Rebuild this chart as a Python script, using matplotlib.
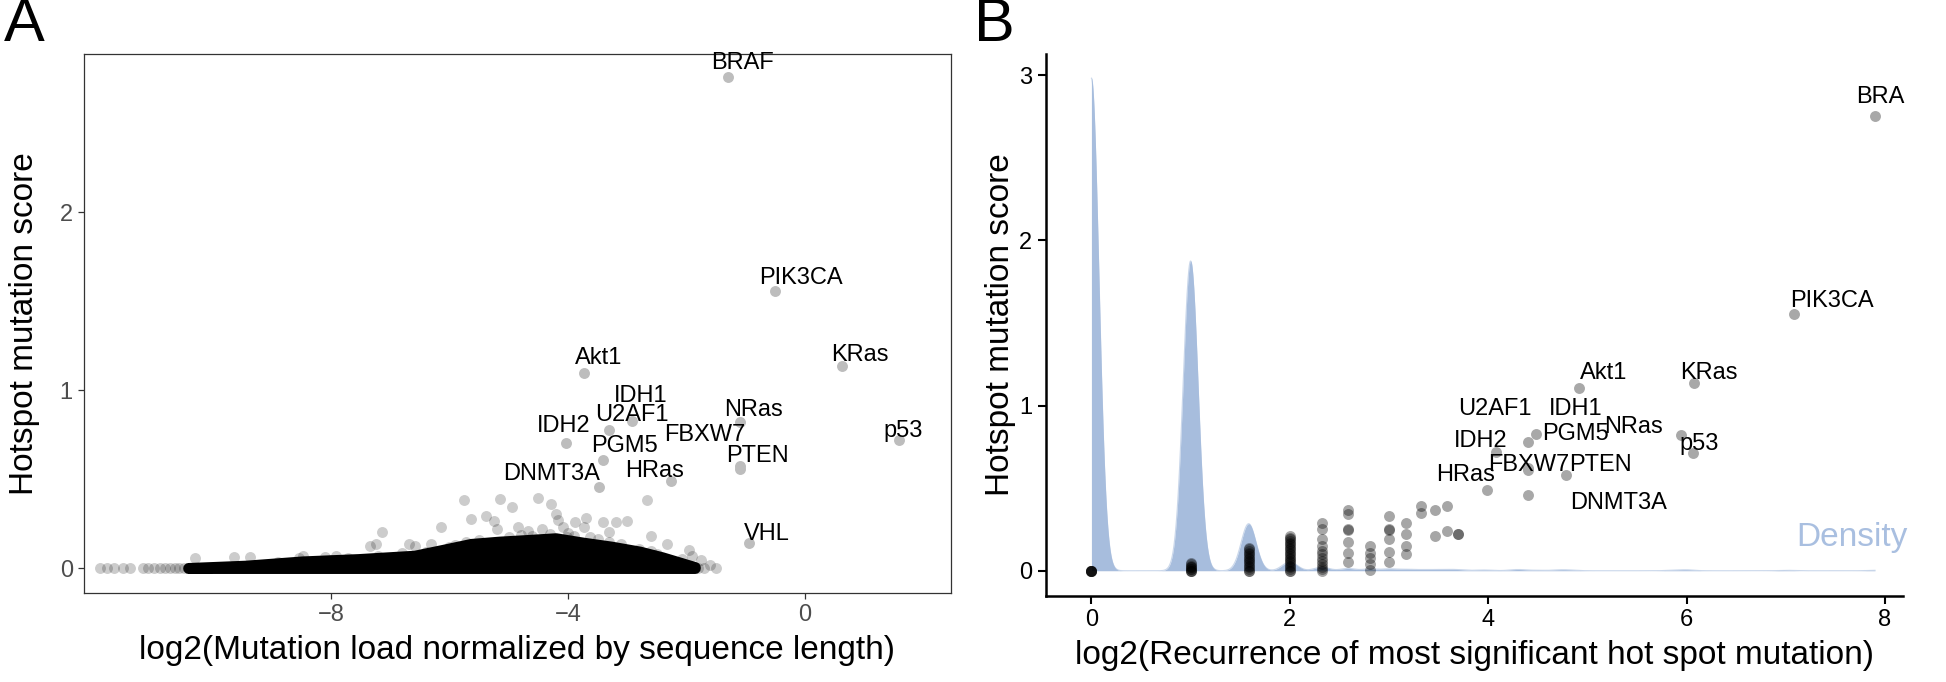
import numpy as np
import matplotlib
matplotlib.use('Agg')
import matplotlib.pyplot as plt

plt.rcParams['font.family'] = ['Liberation Sans', 'DejaVu Sans']

# ---------------- Panel A data ----------------
# dense core of the cloud: upper envelope of the solid region (score >= 0)
a_env_x = [-10.4, -9.43, -8.47, -7.53, -6.58, -6.10, -5.63, -5.15, -4.68, -4.20,
           -3.73, -3.26, -2.78, -2.40, -2.10, -1.85]
a_env_y = [0.0, 0.013, 0.037, 0.05, 0.069, 0.102, 0.135, 0.148, 0.157, 0.167,
           0.142, 0.12, 0.092, 0.06, 0.03, 0.005]
# individual visible points around the core
a_pts_x = [-11.89, -11.78, -11.66, -11.51, -11.39, -11.18, -11.09, -10.98,
           -10.30, -9.64, -9.36, -8.54, -8.47, -8.10, -7.91, -7.72, -7.34, -7.24,
           -7.13, -6.68, -6.58, -6.31, -6.15, -5.72, -5.63, -5.39, -5.24, -5.20,
           -5.75, -5.15, -4.94, -4.84, -4.68, -4.51, -4.44, -4.28, -4.20, -4.16,
           -4.09, -4.01, -3.88, -3.73, -3.70, -3.63, -3.40, -3.30, -3.18, -3.01,
           -2.67, -2.59, -2.32, -2.07, -1.96, -2.21, -2.40, -2.49,
           -8.9, -8.0, -7.2, -6.8, -6.4, -6.0, -5.5, -5.0, -4.6, -4.3, -3.9, -3.5,
           -3.1, -2.8, -2.5, -2.3, -2.1, -1.9, -1.8, -2.0, -2.6, -3.3, -4.0, -4.8, -5.9,
           -1.7, -1.6, -1.5, -1.75, -1.9,
           -10.88, -10.80, -10.72, -10.64, -10.56, -10.48, -10.42, -10.36]
a_pts_y = [0, 0, 0, 0, 0, 0, 0, 0,
           0.059, 0.065, 0.065, 0.061, 0.069, 0.065, 0.069, 0.061, 0.124, 0.135,
           0.204, 0.135, 0.124, 0.135, 0.231, 0.148, 0.278, 0.296, 0.269, 0.222,
           0.385, 0.389, 0.343, 0.231, 0.213, 0.398, 0.222, 0.361, 0.306, 0.272,
           0.231, 0.176, 0.259, 0.231, 0.283, 0.176, 0.259, 0.204, 0.259, 0.269,
           0.385, 0.181, 0.139, 0.056, 0.102, 0.019, 0.013, 0.028,
           0.035, 0.05, 0.07, 0.085, 0.095, 0.12, 0.16, 0.175, 0.185, 0.195, 0.18, 0.165,
           0.14, 0.11, 0.08, 0.05, 0.03, 0.01, 0.0, 0.0, 0.1, 0.15, 0.2, 0.19, 0.13,
           0.0, 0.02, 0.0, 0.05, 0.07,
           0, 0, 0, 0, 0, 0, 0, 0]
# labelled genes
a_genes = ['BRAF', 'PIK3CA', 'KRas', 'Akt1', 'IDH1', 'U2AF1', 'IDH2', 'NRas',
           'FBXW7', 'PGM5', 'PTEN', 'HRas', 'DNMT3A', 'VHL', 'p53']
a_gene_x = [-1.30, -0.51, 0.63, -3.72, -2.91, -3.30, -4.03, -1.10,
            -1.10, -3.41, -1.10, -2.26, -3.47, -0.95, 1.59]
a_gene_y = [2.76, 1.557, 1.135, 1.10, 0.83, 0.775, 0.706, 0.82,
            0.56, 0.61, 0.574, 0.49, 0.46, 0.145, 0.72]
a_lab_x = [-1.045, -0.07, 0.93, -3.48, -2.77, -2.92, -4.07, -0.86,
           -1.69, -3.04, -0.795, -2.545, -4.27, -0.65, 1.66]
a_lab_y = [2.84, 1.63, 1.20, 1.18, 0.97, 0.86, 0.80, 0.89,
           0.75, 0.69, 0.63, 0.55, 0.53, 0.195, 0.77]
a_xticks = [-8, -4, 0]
a_yticks = [0, 1, 2]

# ---------------- Panel B data ----------------
# recurrence (log2) values and number of genes at each, for the density
b_rec_x = [0, 1, 1.585, 2, 2.322, 2.585, 2.807, 3, 3.17, 3.322, 3.459, 3.585, 3.7,
           3.907, 4.0, 4.25, 4.32, 4.5, 4.7, 4.75, 4.84, 5.86, 6.0, 7.0, 7.9]
b_rec_n = [1110, 698, 106, 20, 8, 5, 4, 4, 3, 2, 2, 2, 2,
           1, 1, 1, 2, 1, 1, 1, 1, 1, 2, 1, 1]
# visible (unlabelled) points per recurrence column
b_col_x = [0, 1, 1.585, 2, 2.322, 2.585, 2.807, 3, 3.17, 3.322, 3.459, 3.585, 3.7]
b_col_y = [
    [0, 0, 0, 0, 0, 0],
    [0, 0, 0, 0.01, 0.01, 0.02, 0.02, 0.03, 0.04, 0.045],
    [0, 0, 0.01, 0.02, 0.03, 0.04, 0.05, 0.06, 0.07, 0.08, 0.09, 0.10, 0.11, 0.12, 0.13, 0.14],
    [0, 0, 0.01, 0.02, 0.03, 0.04, 0.05, 0.06, 0.07, 0.08, 0.09, 0.10, 0.11, 0.12,
     0.13, 0.14, 0.15, 0.16, 0.17, 0.18, 0.19, 0.20, 0.21],
    [0, 0.01, 0.02, 0.04, 0.06, 0.08, 0.10, 0.12, 0.15, 0.19, 0.25, 0.29],
    [0.05, 0.11, 0.175, 0.245, 0.255, 0.345, 0.37],
    [0.007, 0.04, 0.075, 0.11, 0.15],
    [0.05, 0.115, 0.19, 0.245, 0.255, 0.33],
    [0.10, 0.15, 0.22, 0.29],
    [0.35, 0.39],
    [0.21, 0.37],
    [0.24, 0.39],
    [0.225, 0.225],
]
b_genes = ['BRA', 'PIK3CA', 'KRas', 'p53', 'Akt1', 'NRas', 'IDH1', 'U2AF1',
           'IDH2', 'PGM5', 'FBXW7', 'PTEN', 'HRas', 'DNMT3A']
b_gene_x = [7.90, 7.08, 6.08, 6.06, 4.92, 5.94, 4.48, 4.40, 4.08, 4.40, 4.40, 4.78, 3.987, 4.40]
b_gene_y = [2.75, 1.556, 1.135, 0.71, 1.107, 0.82, 0.83, 0.78, 0.72, 0.62, 0.61, 0.58, 0.486, 0.457]
b_lab_x = [7.95, 7.47, 6.22, 6.13, 5.16, 5.47, 4.88, 4.07, 3.92, 4.88, 4.41, 5.13, 3.77, 5.31]
b_lab_y = [2.87, 1.63, 1.20, 0.77, 1.20, 0.87, 0.98, 0.98, 0.785, 0.83, 0.64, 0.64, 0.58, 0.41]
b_xticks = [0, 2, 4, 6, 8]
b_yticks = [0, 1, 2, 3]

# ---------------- Figure ----------------
fig = plt.figure(figsize=(19.46, 6.82), dpi=100)
LAB = 17
TICK = 17
TITLE = 24
MS = 62
MD = 7.9  # marker diameter in points

# ---- Panel A ----
axA = fig.add_axes([0.0431, 0.1304, 0.4454, 0.7899])
env_x = np.array(a_env_x)
env_y = np.array(a_env_y)
poly_x = np.concatenate([env_x, env_x[::-1]])
poly_y = np.concatenate([env_y, np.zeros_like(env_y)])
axA.fill(poly_x, poly_y, color='black', lw=MD, joinstyle='round', zorder=2)
axA.scatter(a_pts_x, a_pts_y, s=MS, color='black', alpha=0.2, lw=0, zorder=3)
axA.scatter(a_gene_x, a_gene_y, s=MS, color='#BDBDBD', lw=0, zorder=4)
for g, x, y in zip(a_genes, a_lab_x, a_lab_y):
    axA.text(x, y, g, ha='center', va='center', fontsize=LAB, color='black', zorder=5)
axA.set_xlim(-12.17, 2.46)
axA.set_ylim(-0.138, 2.886)
axA.set_xticks(a_xticks)
axA.set_xticklabels(['\u22128', '\u22124', '0'])
axA.set_yticks(a_yticks)
for sp in axA.spines.values():
    sp.set_color('#333333')
    sp.set_linewidth(0.9)
axA.tick_params(direction='out', length=4, width=0.9, color='#333333',
                labelcolor='#4D4D4D', labelsize=TICK, pad=4)
axA.set_xlabel('log2(Mutation load normalized by sequence length)', fontsize=TITLE, labelpad=6)
axA.set_ylabel('Hotspot mutation score', fontsize=TITLE, labelpad=14)

# ---- Panel B ----
axB = fig.add_axes([0.5374, 0.1268, 0.4404, 0.7935])
rx = np.array(b_rec_x)
rn = np.array(b_rec_n, dtype=float)
bw = 0.075
grid = np.linspace(0, rx.max(), 3000)
dens = (rn[None, :] * np.exp(-0.5 * ((grid[:, None] - rx[None, :]) / bw) ** 2)).sum(1)
dens /= rn.sum() * bw * np.sqrt(2 * np.pi)
axB.fill_between(grid, 0, dens, color='#A7BDDD', lw=0, zorder=1)
axB.plot(grid, dens, color='#A7BDDD', lw=0.8, alpha=0.6, zorder=1)
for x, ys in zip(b_col_x, b_col_y):
    axB.scatter([x] * len(ys), ys, s=MS, color='black', alpha=0.35, lw=0, zorder=3)
axB.scatter(b_gene_x, b_gene_y, s=MS, color='#A8A8A8', lw=0, zorder=4)
for g, x, y in zip(b_genes, b_lab_x, b_lab_y):
    axB.text(x, y, g, ha='center', va='center', fontsize=LAB, color='black', zorder=5)
axB.text(7.67, 0.2, 'Density', ha='center', va='center', fontsize=24,
         color='#A9BFE0', clip_on=False, zorder=5)
axB.set_xlim(-0.46, 8.18)
axB.set_ylim(-0.15, 3.126)
axB.set_xticks(b_xticks)
axB.set_yticks(b_yticks)
axB.spines['top'].set_visible(False)
axB.spines['right'].set_visible(False)
for s in ['left', 'bottom']:
    axB.spines[s].set_linewidth(1.8)
    axB.spines[s].set_color('black')
axB.tick_params(direction='out', length=6, width=1.5, color='black',
                labelcolor='black', labelsize=TICK, pad=4)
axB.set_xlabel('log2(Recurrence of most significant hot spot mutation)', fontsize=TITLE, labelpad=6)
axB.set_ylabel('Hotspot mutation score', fontsize=TITLE, labelpad=2)

fig.text(0.0127, 0.962, 'A', fontsize=44, ha='center', va='center')
fig.text(0.511, 0.962, 'B', fontsize=44, ha='center', va='center')

fig.savefig('out.png', dpi=100)
